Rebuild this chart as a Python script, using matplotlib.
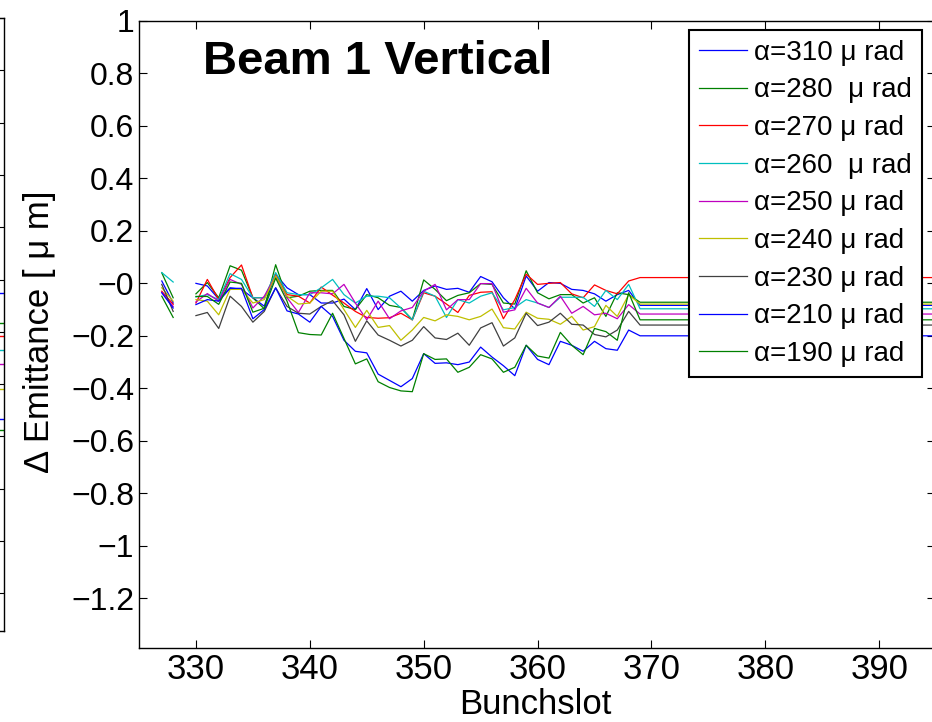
import numpy as np
import matplotlib; matplotlib.use("Agg"); import matplotlib.pyplot as plt
from matplotlib.ticker import FuncFormatter

plt.rcParams.update({"font.family":["Liberation Sans","DejaVu Sans"],"axes.linewidth":1.0})

# bunch slots: 327..369 (329 missing), then flat to the right edge
slots=list(range(327,370))+[395]
labels=["α=310 μ rad","α=280  μ rad","α=270 μ rad","α=260  μ rad","α=250 μ rad",
        "α=240 μ rad","α=230 μ rad","α=210 μ rad","α=190 μ rad"]
colors=["#0000ff","#008000","#ff0000","#00bfbf","#bf00bf","#bfbf00","#404040","#0000ff","#008000"]
N=np.nan
a310=[0.009,-0.075,N,
      0.0,-0.01,-0.06,-0.017,-0.023,-0.055,-0.087,0.035,-0.017,-0.043,
      -0.043,-0.075,-0.075,-0.06,-0.1,-0.02,-0.1,-0.049,-0.03,-0.068,
      -0.027,-0.01,-0.023,-0.019,-0.034,0.026,0.006,-0.055,-0.097,0.028,
      -0.03,0.003,0.0,-0.023,-0.027,-0.04,-0.068,-0.043,-0.027,-0.084,-0.084]
a280=[0.04,-0.055,N,
      -0.04,0.003,-0.055,0.067,0.05,-0.055,-0.097,0.071,-0.055,-0.049,
      -0.03,-0.027,-0.027,-0.088,-0.1,-0.043,-0.055,-0.084,-0.092,-0.139,
      0.013,-0.023,-0.066,-0.046,-0.036,-0.001,-0.004,-0.075,-0.079,0.048,
      -0.036,-0.059,-0.043,-0.043,-0.075,-0.055,-0.126,-0.036,-0.043,-0.072,-0.072]
a270=[-0.03,-0.08,N,
      -0.075,0.015,-0.062,0.022,0.07,-0.055,-0.055,0.035,-0.043,-0.049,
      -0.075,-0.014,-0.045,-0.075,-0.107,-0.13,-0.133,-0.131,-0.114,-0.139,
      -0.036,-0.049,-0.079,-0.111,-0.046,-0.034,-0.032,-0.135,-0.062,0.035,
      -0.004,0.0,0.003,-0.04,-0.055,-0.006,-0.027,-0.04,0.009,0.022,0.022]
a260=[0.041,0.005,N,
      -0.052,-0.043,-0.062,0.037,0.015,-0.055,-0.055,0.041,-0.036,-0.043,
      -0.043,-0.017,0.015,-0.043,-0.075,-0.049,-0.049,-0.055,-0.094,-0.139,
      -0.03,-0.049,-0.13,-0.062,-0.075,-0.049,-0.036,-0.101,-0.092,-0.062,
      -0.075,-0.092,-0.053,-0.053,-0.053,-0.088,-0.027,-0.062,-0.004,-0.097,-0.097]
a250=[-0.034,-0.088,N,
      -0.071,-0.039,-0.068,0.015,-0.004,-0.094,-0.049,0.028,-0.055,-0.111,
      -0.036,-0.036,-0.04,-0.004,-0.075,-0.139,-0.068,-0.135,-0.105,-0.092,
      -0.03,-0.004,-0.101,-0.062,-0.062,-0.001,-0.001,-0.11,-0.101,-0.019,
      -0.075,-0.092,-0.049,-0.114,-0.088,-0.12,-0.114,-0.135,-0.081,-0.117,-0.117]
a240=[-0.017,-0.068,N,
      -0.062,-0.068,-0.12,-0.023,-0.023,-0.075,-0.062,0.028,-0.049,-0.079,
      -0.075,-0.03,-0.03,-0.1,-0.168,-0.103,-0.168,-0.161,-0.217,-0.178,
      -0.13,-0.143,-0.12,-0.126,-0.139,-0.126,-0.098,-0.169,-0.174,-0.11,
      -0.133,-0.137,-0.156,-0.126,-0.178,-0.165,-0.084,-0.126,-0.043,-0.079,-0.079]
a230=[-0.004,-0.107,N,
      -0.123,-0.111,-0.172,-0.049,-0.088,-0.148,-0.107,-0.017,-0.088,-0.114,
      -0.117,-0.088,-0.066,-0.12,-0.221,-0.143,-0.197,-0.217,-0.239,-0.217,
      -0.165,-0.208,-0.214,-0.19,-0.236,-0.17,-0.15,-0.239,-0.208,-0.114,
      -0.161,-0.148,-0.114,-0.156,-0.159,-0.195,-0.204,-0.178,-0.107,-0.159,-0.159]
a210=[-0.036,-0.094,N,
      -0.081,-0.062,-0.068,-0.019,-0.019,-0.135,-0.1,-0.017,-0.105,-0.117,
      -0.148,-0.088,-0.126,-0.217,-0.259,-0.265,-0.346,-0.37,-0.394,-0.363,
      -0.268,-0.305,-0.303,-0.31,-0.3,-0.243,-0.281,-0.314,-0.352,-0.236,
      -0.29,-0.31,-0.221,-0.236,-0.259,-0.221,-0.249,-0.255,-0.178,-0.2,-0.2]
a190=[-0.049,-0.13,N,
      -0.05,-0.05,-0.08,0.005,0.0,-0.11,-0.095,0.02,-0.068,-0.188,
      -0.195,-0.197,-0.114,-0.21,-0.307,-0.288,-0.375,-0.397,-0.41,-0.413,
      -0.268,-0.29,-0.288,-0.339,-0.32,-0.272,-0.288,-0.339,-0.32,-0.236,
      -0.277,-0.285,-0.187,-0.236,-0.272,-0.172,-0.184,-0.217,-0.036,-0.139,-0.139]
series=[a310,a280,a270,a260,a250,a240,a230,a210,a190]

# right edge of the neighbouring panel (cut off at the left of the image)
left_vals=[-0.052,-0.166,-0.216,-0.27,-0.323,-0.42,-0.535,-0.574]
left_cols=["#0000ff","#008000","#ff0000","#00bfbf","#bf00bf","#bfbf00","#0000ff","#008000"]

W,H=932,722
fig=plt.figure(figsize=(W/100,H/100),dpi=100)

axl=fig.add_axes([-0.1,(H-631)/H,0.1+3.5/W,(631-18)/H])
for v,c in zip(left_vals,left_cols): axl.axhline(v,color=c,lw=1)
axl.set_ylim(-1.344,1); axl.set_xlim(0,1)
axl.set_yticks(np.arange(-1.2,1.01,0.2))
axl.tick_params(direction="in",left=False,right=True,labelleft=False,bottom=False,labelbottom=False,length=6)

ax=fig.add_axes([139/W,(H-648)/H,(935-139)/W,(648-21)/H])
for y,c,l in zip(series,colors,labels):
    ax.plot(slots,y,color=c,lw=0.9,label=l)
ax.set_xlim(325,394.9); ax.set_ylim(-1.39,1)
ax.set_xticks(range(330,391,10))
ax.set_yticks(np.round(np.arange(-1.2,1.01,0.2),1))
ax.yaxis.set_major_formatter(FuncFormatter(lambda v,p:("%g"%round(v,1)).replace("-","\u2212")))
ax.tick_params(direction="in",top=True,right=True,length=6,width=0.8)
for t in ax.get_yticklabels(): t.set_fontsize(23)
for t in ax.get_xticklabels(): t.set_fontsize(25); t.set_fontstretch("condensed")

ax.text(0.081,0.935,"Beam 1 Vertical",transform=ax.transAxes,fontsize=34,fontweight="bold",va="center",ha="left")
fig.text(40/W,1-332/H,"Δ Emittance [ μ m]",rotation=90,fontsize=25,ha="center",va="center")
fig.text(535/W,1-704/H,"Bunchslot",fontsize=25,ha="center",va="center")

leg=ax.legend(loc="upper right",bbox_to_anchor=(922/W,1-30/H),bbox_transform=fig.transFigure,
              fontsize=20,handlelength=1.75,handletextpad=0.25,labelspacing=0.42,borderpad=0.35,
              borderaxespad=0,fancybox=False,framealpha=1,edgecolor="black")
leg.get_frame().set_linewidth(1.5)
for h in leg.get_lines(): h.set_linewidth(0.9)

fig.savefig("out.png",dpi=100)
